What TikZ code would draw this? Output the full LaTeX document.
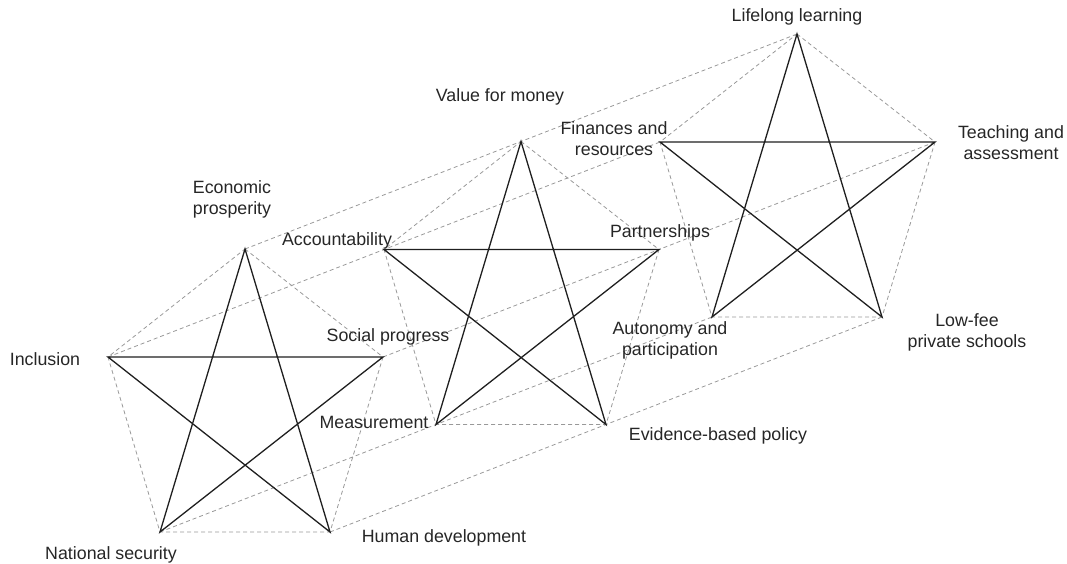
\documentclass[tikz,border=0pt]{standalone}
\usepackage{fontspec}
\setmainfont{Liberation Sans}

\tikzstyle{starline}=[line width=1.3pt,draw=black!88,line join=miter]
\tikzstyle{rim}=[line width=0.8pt,draw=black!40,dash pattern=on 4pt off 3pt]
\tikzstyle{tag}=[align=center,inner sep=0pt,text=black!85,font=\fontsize{17.8}{21}\selectfont]

\begin{document}
\begin{tikzpicture}[x=1pt,y=-1pt]
  \useasboundingbox (0,0) rectangle (1067,564);
  % corners of the three stars
  \foreach \i in {1,2,3} {
    \begin{scope}[shift={({(\i-1)*276},{(\i-1)*-107.5})}]
      \coordinate (top\i) at (245,249);
      \coordinate (lft\i) at (108,357);
      \coordinate (rgt\i) at (383,357);
      \coordinate (bl\i) at (160,532);
      \coordinate (br\i) at (330,532);
    \end{scope}
  }
  \foreach \v in {top,lft,rgt,bl,br}
    \draw[rim] (\v1) -- (\v2) -- (\v3);
  \foreach \i in {1,2,3} {
    \draw[rim] (top\i) -- (rgt\i) -- (br\i) -- (bl\i) -- (lft\i) -- cycle;
    \draw[starline] (top\i) -- (bl\i) -- (rgt\i) -- (lft\i) -- (br\i) -- cycle;
  }
  % labels
  \node (economic) [tag] at (232,199) {Economic\\prosperity};
  \node (inclusion) [tag] at (45,359) {Inclusion};
  \node (social) [tag] at (388,337) {Social progress};
  \node (security) [tag] at (111,555) {National security};
  \node (human) [tag] at (444,538) {Human development};
  \node (value) [tag] at (500,97) {Value for money};
  \node (account) [tag] at (337,241) {Accountability};
  \node (partner) [tag] at (660,233) {Partnerships};
  \node (measure) [tag] at (374,422) {Measurement};
  \node (evidence) [tag] at (718,436) {Evidence-based policy};
  \node (lifelong) [tag] at (797,17) {Lifelong learning};
  \node (finances) [tag] at (614,139) {Finances and\\resources};
  \node (teaching) [tag] at (1011,143) {Teaching and\\assessment};
  \node (autonomy) [tag] at (670,340) {Autonomy and\\participation};
  \node (lowfee) [tag] at (967,332) {Low-fee\\private schools};
\end{tikzpicture}
\end{document}
